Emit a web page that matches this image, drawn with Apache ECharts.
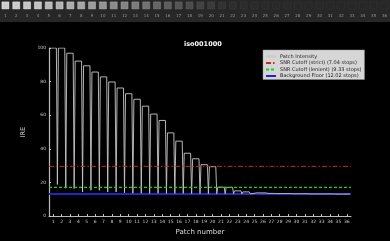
<!DOCTYPE html>
<html>
<head>
<meta charset="utf-8">
<script src="https://cdn.jsdelivr.net/npm/echarts@6/dist/echarts.min.js"></script>
<style>
  html, body { margin: 0; padding: 0; background: #000; }
  #chart { width: 390px; height: 241px; }
</style>
</head>
<body>
<div id="chart"></div>
<script>
    // patch numbers / tick labels
    var patchLabels = [];
    for (var i = 1; i <= 36; i++) patchLabels.push(i);
    var yTicks = [0, 20, 40, 60, 80, 100];

    // peak value of each patch (IRE)
    var patchPeaks = [100, 100, 96.9, 92.2, 89.4, 85.7, 82.8, 79.8, 76.2, 72.8, 69.5, 65.4,
        60.7, 56.9, 49.5, 44.6, 37.4, 34.1, 30.6, 29.4, 17.2, 17.1, 15.0, 14.4,
        13.9, 13.8, 13.5, 13.4, 13.4, 13.3, 13.3, 13.2, 13.2, 13.2, 13.1, 13.1];
    // valley between patch k and k+1
    var patchValleys = [18.8, 16.6, 16.4, 14.3, 15.4, 15.4, 14.4, 14.4, 13.9, 13.6, 13.6, 13.5,
        13.6, 13.5, 13.5, 13.5, 13.4, 13.4, 13.4, 13.3, 13.3, 13.3, 13.2, 13.2,
        13.2, 13.1, 13.1, 13.1, 13.0, 13.0, 13.0, 13.0, 12.9, 12.9, 12.9];
    // gray level of each patch in the strip
    var patchShades = [246, 242, 238, 232, 220, 212, 205, 196, 186, 176, 166, 156,
        146, 132, 118, 106, 96, 86, 74, 64, 54, 49, 46, 44,
        43, 42, 42, 41, 41, 41, 40, 40, 40, 40, 40, 40];

    var strictCutoff = 29.6;
    var lenientCutoff = 17.1;
    var backgroundFloor = 13.2;

    // intensity trace built from peaks and valleys
    var trace = [];
    for (var k = 0; k < patchPeaks.length; k++) {
        var c = patchLabels[k];
        trace.push([c - 0.38, patchPeaks[k]]);
        trace.push([c + 0.38, patchPeaks[k]]);
        if (k < patchValleys.length) trace.push([c + 0.5, patchValleys[k]]);
    }

    var shadeData = patchShades.map(function (g, i) {
        var b = Math.min(255, g + 14);
        return {
            value: [i, 0.55],
            itemStyle: {
                color: 'rgb(' + g + ',' + g + ',' + g + ')',
                borderColor: 'rgb(' + b + ',' + b + ',' + b + ')',
                borderWidth: 0.6
            }
        };
    });

    function hline(v) { return [[0.5, v], [36.5, v]]; }

    var chart = echarts.init(document.getElementById('chart'), null, { renderer: 'canvas' });
    chart.setOption({
        backgroundColor: '#000',
        animation: false,
        textStyle: { fontFamily: 'DejaVu Sans' },
        graphic: [{
            type: 'rect', z: -10,
            shape: { x: 0, y: 0, width: 390, height: 22 },
            style: { fill: '#272727' }
        }],
        title: {
            text: 'iso001000',
            left: 184, top: 41, padding: 0,
            textStyle: { color: '#fff', fontSize: 6.5, fontWeight: 'bold', fontFamily: 'DejaVu Sans' }
        },
        legend: {
            orient: 'vertical',
            left: 263, top: 50,
            backgroundColor: '#d6d6d6',
            borderColor: '#999', borderWidth: 0.5,
            padding: [4, 3, 1, 2],
            itemGap: 1.5,
            // tiny item height keeps the line sample but hides the marker dot
            itemWidth: 10, itemHeight: 0.4,
            textStyle: { color: '#222', fontSize: 5, fontFamily: 'DejaVu Sans', padding: [0, 0, 0, -1] },
            data: ['Patch Intensity', 'SNR Cutoff (strict) (7.04 stops)',
                'SNR Cutoff (lenient) (9.33 stops)', 'Background Floor (12.02 stops)']
        },
        grid: [
            { left: 49, right: 39, top: 48, bottom: 24.5 },
            { left: 0, right: 0, top: 0, height: 12 }
        ],
        xAxis: [{
            type: 'value', gridIndex: 0,
            min: 0.5, max: 36.5,
            name: 'Patch number', nameLocation: 'middle', nameGap: 9,
            nameTextStyle: { color: '#ddd', fontSize: 7 },
            axisLine: { lineStyle: { color: '#bbb', width: 1.2 } },
            axisTick: { inside: true, length: 2, customValues: patchLabels, lineStyle: { color: '#ccc' } },
            axisLabel: { color: '#ccc', fontSize: 4.5, margin: 3, customValues: patchLabels },
            splitLine: { show: false }
        }, {
            type: 'category', gridIndex: 1,
            data: patchLabels,
            axisLine: { show: false }, axisTick: { show: false },
            axisLabel: { color: '#999', fontSize: 4, margin: 2, interval: 0 }
        }],
        yAxis: [{
            type: 'value', gridIndex: 0,
            min: 0, max: 100, interval: 20,
            name: 'IRE', nameLocation: 'middle', nameGap: 9,
            nameTextStyle: { color: '#ddd', fontSize: 6.5 },
            axisLine: { show: true, lineStyle: { color: '#bbb', width: 1.2 } },
            axisTick: { show: true, inside: true, length: 2, lineStyle: { color: '#ccc' } },
            axisLabel: { color: '#ccc', fontSize: 4.5, margin: 3, customValues: yTicks },
            splitLine: { show: false }
        }, {
            type: 'value', gridIndex: 1, min: 0, max: 1, show: false
        }],
        series: [
            {
                name: 'Patch Intensity', type: 'line',
                data: trace, showSymbol: false, symbol: 'none',
                lineStyle: { color: '#c8c8c8', width: 0.9 },
                itemStyle: { color: '#c8c8c8' }, z: 3
            },
            {
                name: 'SNR Cutoff (strict) (7.04 stops)', type: 'line',
                data: hline(strictCutoff), symbol: 'none',
                lineStyle: { color: '#c8282c', width: 1, type: [5, 2, 1.5, 2] },
                itemStyle: { color: '#c8282c' }
            },
            {
                name: 'SNR Cutoff (lenient) (9.33 stops)', type: 'line',
                data: hline(lenientCutoff), symbol: 'none',
                lineStyle: { color: '#22cc22', width: 1.2, type: [3, 2] },
                itemStyle: { color: '#22cc22' }
            },
            {
                name: 'Background Floor (12.02 stops)', type: 'line',
                data: hline(backgroundFloor), symbol: 'none',
                lineStyle: { color: '#2424c8', width: 2 },
                itemStyle: { color: '#2424c8' }, z: 2
            },
            {
                type: 'scatter', xAxisIndex: 1, yAxisIndex: 1,
                symbol: 'rect', symbolSize: 7,
                data: shadeData, silent: true
            }
        ]
    });
</script>
</body>
</html>
